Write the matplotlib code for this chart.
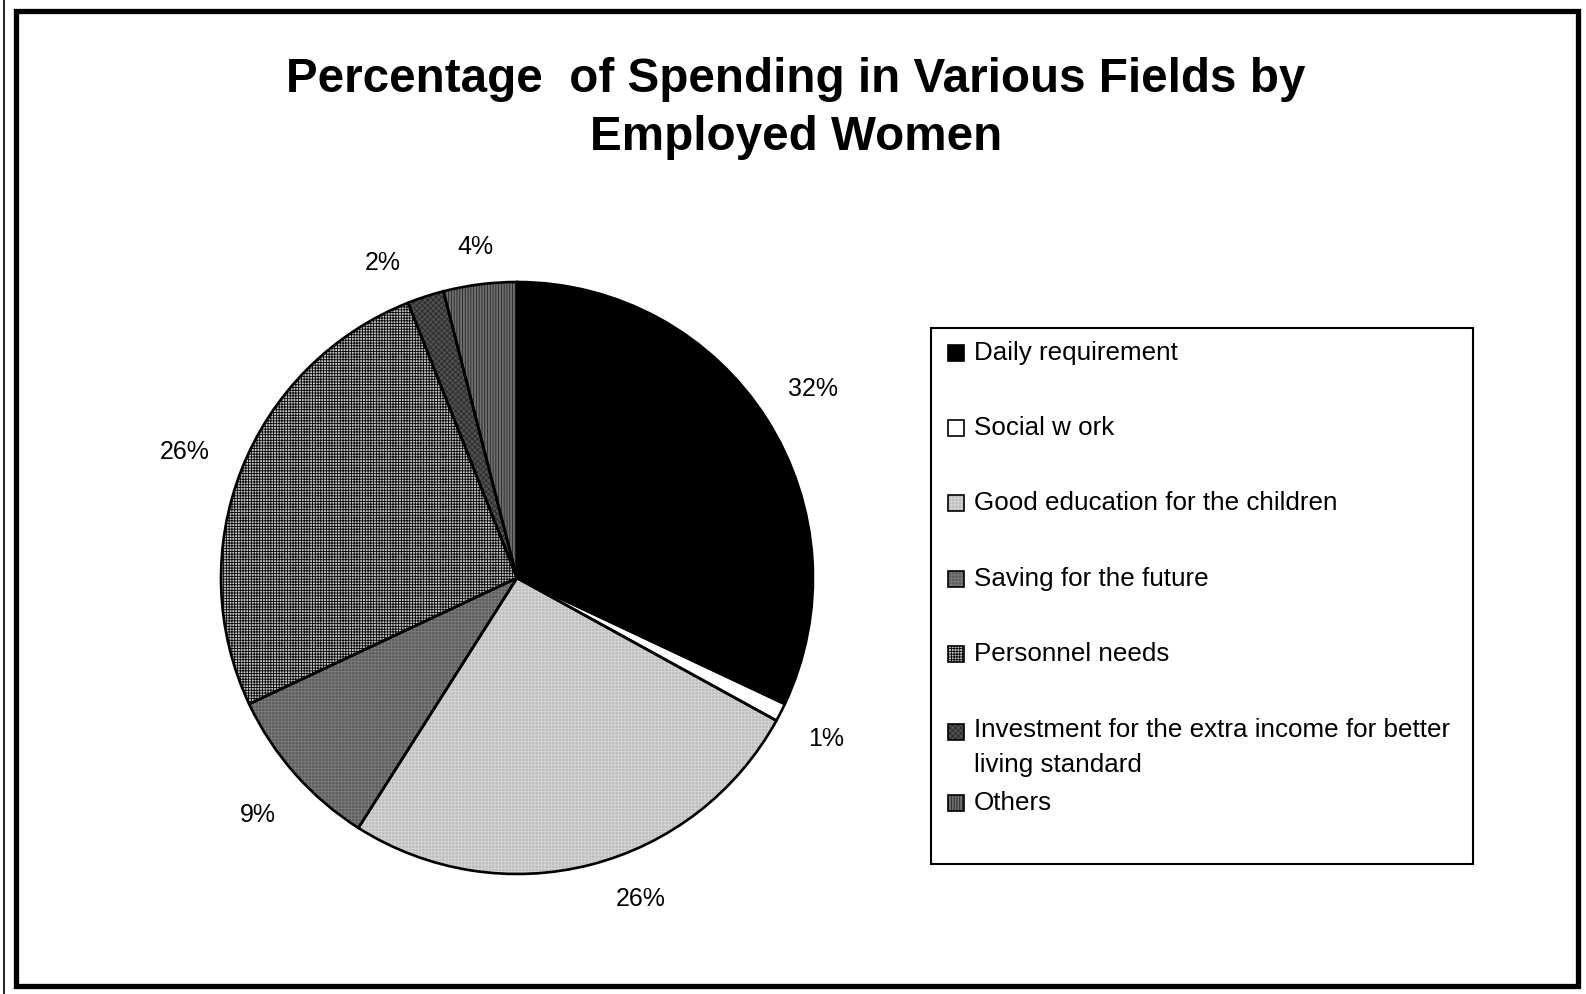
import numpy as np
import matplotlib
matplotlib.use("Agg")
import matplotlib.pyplot as plt
from matplotlib.patches import Rectangle
from matplotlib.lines import Line2D

plt.rcParams['font.family'] = ['Liberation Sans', 'DejaVu Sans']
plt.rcParams['hatch.linewidth'] = 0.6

title = "Percentage  of Spending in Various Fields by\nEmployed Women"
categories = [
    "Daily requirement",
    "Social w ork",
    "Good education for the children",
    "Saving for the future",
    "Personnel needs",
    "Investment for the extra income for better\nliving standard",
    "Others",
]
shares = [32, 1, 26, 9, 26, 2, 4]

# fill shade, hatch pattern and hatch ink for each slice
face_colors = ['#000000', '#ffffff', '#bebebe', '#5c5c5c', '#c4c4c4', '#505050', '#6e6e6e']
hatches = [None, None, '+++++', '+++++', '++++++', 'xxxxxx', '||||||']
hatch_colors = ['#000000', '#ffffff', '#d6d6d6', '#7e7e7e', '#000000', '#2a2a2a', '#262626']

# radial distance and small angular turn (degrees) of each percentage label
label_dist = [1.19, 1.175, 1.16, 1.185, 1.20, 1.16, 1.13]
label_turn = [0.3, -0.4, 6.7, 0.9, 0.7, 5.0, 0.0]

W, H = 1586, 995
fig = plt.figure(figsize=(W / 100, H / 100), dpi=100)

# page frames
fig.add_artist(Line2D([3.5 / W, 3.5 / W], [0, 1], color='black', lw=1.2))
fig.add_artist(Rectangle((15.5 / W, 1 - 986.5 / H), (1577.5 - 15.5) / W, (986.5 - 11.5) / H,
                         transform=fig.transFigure, fill=False, edgecolor='black', lw=3.8))

fig.text(796 / W, 1 - 108.5 / H, title, ha='center', va='center', fontsize=34.3,
         fontweight='bold', linespacing=1.36)

# pie
cx, cy, r = 517, 579, 296
ax = fig.add_axes([(cx - r) / W, 1 - (cy + r) / H, 2 * r / W, 2 * r / H])
labels = [f"{v}%" for v in shares]
wedges, texts = ax.pie(shares, colors=face_colors, startangle=90, counterclock=False,
                       labels=labels, labeldistance=1.0,
                       wedgeprops=dict(linewidth=0),
                       textprops=dict(fontsize=18, ha='center', va='center'))
for w, h, hc in zip(wedges, hatches, hatch_colors):
    if h:
        w.set_edgecolor(hc)
        w.set_hatch(h)
for t, d, turn in zip(texts, label_dist, label_turn):
    x, y = t.get_position()
    a = np.arctan2(y, x) + np.radians(turn)
    t.set_position((d * np.cos(a), d * np.sin(a)))
ax.pie(shares, startangle=90, counterclock=False,
       wedgeprops=dict(fill=False, edgecolor='black', linewidth=1.9))
ax.set_xlim(-1, 1)
ax.set_ylim(-1, 1)
ax.set_aspect('equal')
ax.axis('off')

# legend box
lx0, ly0, lx1, ly1 = 931, 329, 1473, 865
fig.add_artist(Rectangle((lx0 / W, 1 - ly1 / H), (lx1 - lx0) / W, (ly1 - ly0) / H,
                         transform=fig.transFigure, fill=False, edgecolor='black', lw=1.5))
entry_y = [353, 428, 503, 579, 654, 732, 803]
sq = 16
for name, y, fc, h, hc in zip(categories, entry_y, face_colors, hatches, hatch_colors):
    xy = (948 / W, 1 - (y + 1 + sq / 2) / H)
    fig.add_artist(Rectangle(xy, sq / W, sq / H, transform=fig.transFigure,
                             facecolor=fc, edgecolor='none', lw=0))
    if h:
        fig.add_artist(Rectangle(xy, sq / W, sq / H, transform=fig.transFigure,
                                 facecolor='none', edgecolor=hc, lw=0, hatch=h))
    fig.add_artist(Rectangle(xy, sq / W, sq / H, transform=fig.transFigure,
                             fill=False, edgecolor='black', lw=1.2))
    if '\n' in name:
        fig.text(974 / W, 1 - (y - 14) / H, name, ha='left', va='top',
                 fontsize=18.7, linespacing=1.6)
    else:
        fig.text(974 / W, 1 - y / H, name, ha='left', va='center', fontsize=18.7)

fig.savefig("out.png", dpi=100, facecolor='white')
